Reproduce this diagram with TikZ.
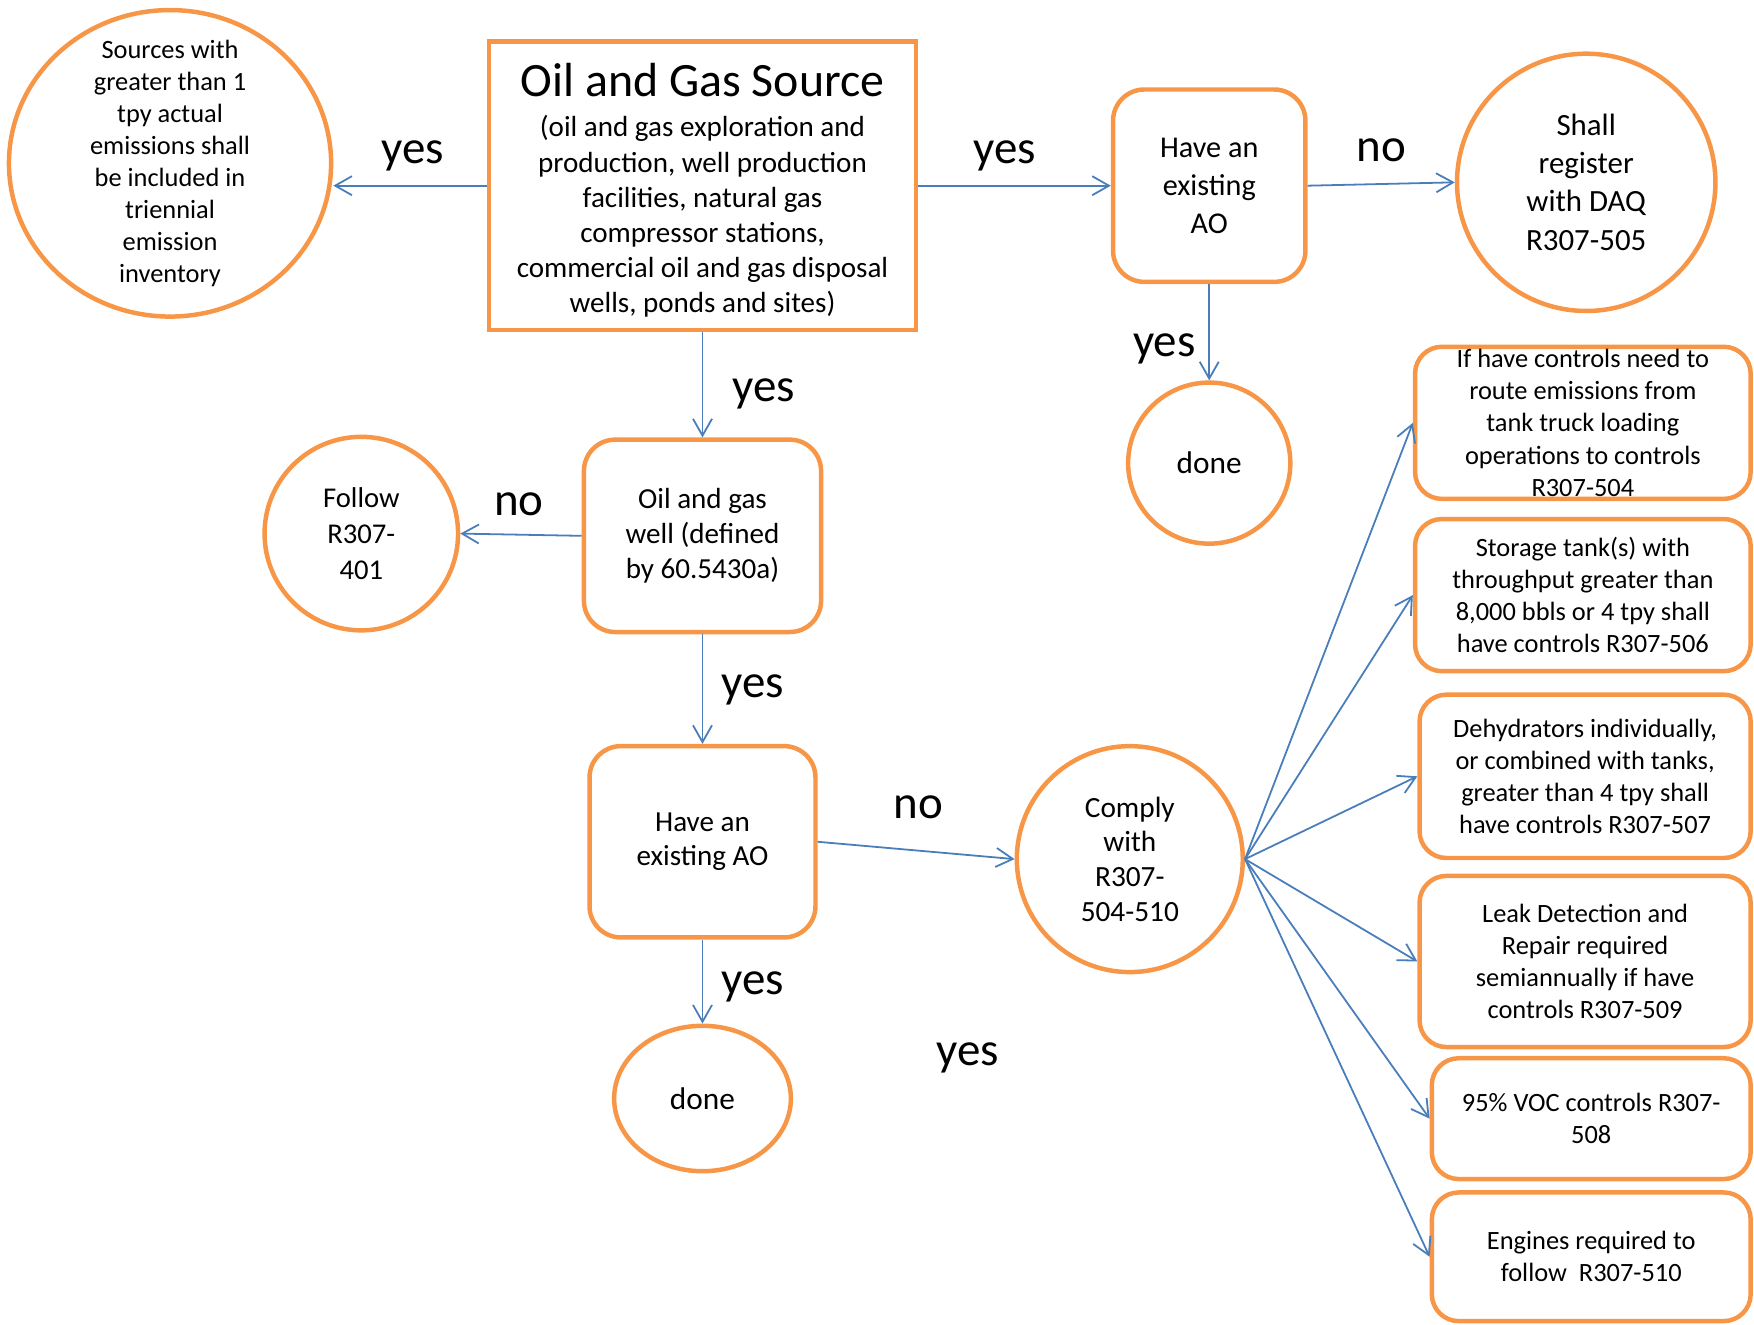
\documentclass[tikz,border=0pt]{standalone}
\usepackage{fontspec}
\setmainfont{Carlito}
\usetikzlibrary{shapes.geometric,arrows.meta}

\definecolor{boxorange}{HTML}{F79646}
\definecolor{linkblue}{HTML}{4A7EBB}

\begin{document}
\begin{tikzpicture} [
    x=1pt, y=-1pt,
    outl/.style={draw=boxorange, line width=4pt, align=center, inner sep=0pt},
    srcbox/.style={outl, rectangle},
    roundbox/.style={outl, rectangle, rounded corners=28pt},
    sidebox/.style={outl, rectangle, rounded corners=24pt,
      font=\fontsize{23.6}{28.7}\selectfont},
    bubble/.style={outl, ellipse},
    lbl/.style={font=\fontsize{42}{50}\selectfont, inner sep=0pt},
    flow/.style={draw=linkblue, line width=1.6pt,
      -{Straight Barb[length=15pt,width=17pt]}},
    ]
    \useasboundingbox (0,0) rectangle (1568,1184);
    % Top row
    \node[bubble, inner sep=-40pt, minimum width=288pt, minimum height=274pt,
      font=\fontsize{23.6}{28.6}\selectfont] (incl) at (152,146)
      {Sources with\\greater than 1\\tpy actual\\emissions shall\\be included in\\triennial\\emission\\inventory};
    \node[srcbox, minimum width=382pt, minimum height=258pt] (src) at (628,166) {};
    \node[align=center, font=\fontsize{26}{31.4}\selectfont] (srctext) at (628,170)
      {{\fontsize{42.8}{44}\selectfont Oil and Gas Source}\\[5pt]
       (oil and gas exploration and\\production, well production\\facilities, natural gas\\compressor stations,\\commercial oil and gas disposal\\wells, ponds and sites)};
    \node[roundbox, minimum width=172pt, minimum height=172pt,
      font=\fontsize{27}{34}\selectfont] (aotop) at (1081,166)
      {Have an\\existing\\AO};
    \node[bubble, minimum width=231pt, minimum height=230pt,
      font=\fontsize{27.6}{34}\selectfont] (reg) at (1418,163)
      {Shall\\register\\with DAQ\\R307-505};
    \node[bubble, minimum width=145pt, minimum height=144pt,
      font=\fontsize{28}{34}\selectfont] (donetop) at (1081,414) {done};
    % Well branch
    \node[roundbox, minimum width=212pt, minimum height=172pt,
      font=\fontsize{26}{31.5}\selectfont] (well) at (628,479)
      {Oil and gas\\well (defined\\by 60.5430a)};
    \node[bubble, minimum width=173pt, minimum height=173pt,
      font=\fontsize{25.6}{32}\selectfont] (follow) at (323,477)
      {Follow\\R307-\\401};
    \node[roundbox, minimum width=202pt, minimum height=171pt,
      font=\fontsize{26}{31}\selectfont] (aobot) at (628,752.5)
      {Have an\\existing AO};
    \node[bubble, minimum width=158pt, minimum height=130pt,
      font=\fontsize{28}{34}\selectfont] (donebot) at (628,982) {done};
    \node[bubble, minimum width=202pt, minimum height=202pt,
      font=\fontsize{26.2}{31}\selectfont] (comply) at (1010,768)
      {Comply\\with\\R307-\\504-510};
    % Rule boxes on the right
    \node[sidebox, minimum width=300pt, minimum height=136pt] (r504) at (1415,378)
      {If have controls need to\\route emissions from\\tank truck loading\\operations to controls\\R307-504};
    \node[sidebox, minimum width=300pt, minimum height=136pt] (r506) at (1415,532)
      {Storage tank(s) with\\throughput greater than\\8,000 bbls or 4 tpy shall\\have controls R307-506};
    \node[sidebox, minimum width=296pt, minimum height=146pt] (r507) at (1417,694)
      {Dehydrators individually,\\or combined with tanks,\\greater than 4 tpy shall\\have controls R307-507};
    \node[sidebox, minimum width=296pt, minimum height=153pt] (r509) at (1417,859.5)
      {Leak Detection and\\Repair required\\semiannually if have\\controls R307-509};
    \node[sidebox, minimum width=285pt, minimum height=108pt] (r508) at (1422.5,1000)
      {95\% VOC controls R307-\\508};
    \node[sidebox, minimum width=285pt, minimum height=115pt] (r510) at (1422.5,1123.5)
      {Engines required to\\follow\ \ R307-510};
    % Labels
    \node[lbl] (l1) at (369,139) {yes};
    \node[lbl] (l2) at (898,139) {yes};
    \node[lbl] (l3) at (1235,134) {no};
    \node[lbl] (l4) at (1041,312) {yes};
    \node[lbl] (l5) at (683,352) {yes};
    \node[lbl] (l6) at (464,451) {no};
    \node[lbl] (l7) at (673,617) {yes};
    \node[lbl] (l8) at (821,722) {no};
    \node[lbl] (l9) at (673,882) {yes};
    \node[lbl] (l10) at (865,946) {yes};
    % Connectors
    \draw[flow] (src.west) -- (src.west -| incl.east);
    \draw[flow] (src.east) -- (aotop.west);
    \draw[flow] (aotop.east) -- (reg.west);
    \draw[flow] (aotop.south) -- (donetop.north);
    \draw[flow] (src.south) -- (well.north);
    \draw[flow] (well.west) -- (follow.east);
    \draw[flow] (well.south) -- (aobot.north);
    \draw[flow] (aobot.south) -- (donebot.north);
    \draw[flow] (aobot.east) -- (comply.west);
    \foreach \tgt in {r504,r506,r507,r509,r508,r510}
      \draw[flow] (comply.east) -- (\tgt.west);
  \end{tikzpicture}
\end{document}
